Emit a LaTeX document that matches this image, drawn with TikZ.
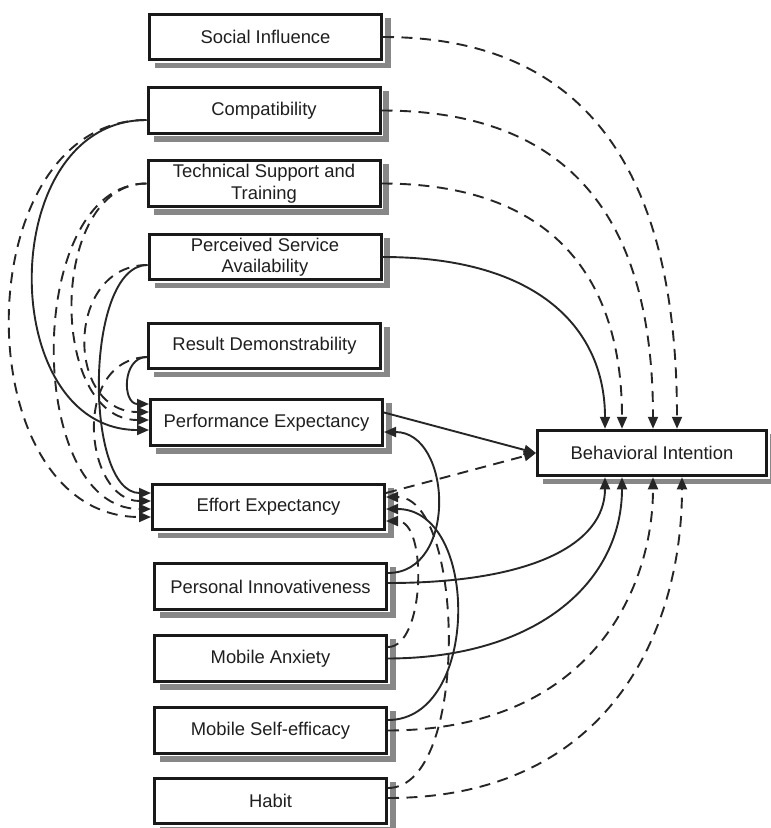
\documentclass[tikz,border=0pt]{standalone}
\usepackage{fontspec}
\setmainfont{Liberation Sans}
\usetikzlibrary{arrows.meta}
\newcommand\bxfont{\fontsize{18.4}{21.5}\selectfont}
\definecolor{shadowgray}{RGB}{135,135,135}
\begin{document}
\begin{tikzpicture}[x=1pt,y=-1pt,
  box/.style={draw=black!90, line width=3pt, fill=white, minimum width=232pt,
    minimum height=45.5pt, inner sep=1pt, align=center, font=\bxfont, text=black!88},
  shadowbox/.style={fill=shadowgray, draw=none},
  conn/.style={line width=1.9pt, draw=black!85},
  dsh/.style={conn, dash pattern=on 11pt off 7.5pt},
  arr/.style={-{Triangle[length=12pt,width=10pt]}}]
\useasboundingbox (0,0) rectangle (771,828);
% boxes
\node[box] (si)  at (265.5,37)  {Social Influence};
\node[box] (cp)  at (264,110.5) {Compatibility};
\node[box] (ts)  at (264,183.5) {Technical Support and\\Training};
\node[box] (psa) at (265,257)   {Perceived Service\\Availability};
\node[box] (rd)  at (264.5,346) {Result Demonstrability};
\node[box] (pe)  at (266.5,422.5) {Performance Expectancy};
\node[box] (ee)  at (268.5,507) {Effort Expectancy};
\node[box] (pi)  at (270.5,586.5) {Personal Innovativeness};
\node[box] (ma)  at (270.5,658.5) {Mobile Anxiety};
\node[box] (mse) at (270.5,730.5) {Mobile Self-efficacy};
\node[box] (hb)  at (270.5,801) {Habit};
\node[box, minimum width=229pt] (bi)  at (652,453)   {Behavioral Intention};
% shadows: gray bands along right and bottom sides
\foreach \n in {si,cp,ts,psa,rd,pe,ee,pi,ma,mse,hb,bi}{
  \fill[shadowbox] ([xshift=1.5pt,yshift=-5pt]\n.north east) rectangle ([xshift=7.5pt,yshift=-7pt]\n.south east);
  \fill[shadowbox] ([xshift=7pt,yshift=-1.5pt]\n.south west) rectangle ([xshift=7.5pt,yshift=-7pt]\n.south east);
}
% right side, into top of BI
\draw[dsh,arr] (si.east) .. controls (600,37) and (677,190) .. ([xshift=25pt]bi.north);
\draw[dsh,arr] (cp.east) .. controls (580,110.5) and (653,230) .. ([xshift=1pt]bi.north);
\draw[dsh,arr] (ts.east) .. controls (555,183.5) and (622,280) .. ([xshift=-30pt]bi.north);
\draw[conn,arr] (psa.east) .. controls (540,257) and (605,330) .. ([xshift=-47pt]bi.north);
% into bottom of BI
\draw[conn,arr] ([yshift=3.5pt]pi.east) .. controls (530,583) and (605,545) .. ([xshift=-47pt]bi.south);
\draw[conn,arr] (ma.east) .. controls (540,658) and (622,580) .. ([xshift=-30pt]bi.south);
\draw[dsh,arr] (mse.east) .. controls (590,730) and (653,590) .. ([xshift=1pt]bi.south);
\draw[dsh,arr] ([yshift=3pt]hb.east) .. controls (610,798) and (682,630) .. ([xshift=30pt]bi.south);
% into left of BI
\draw[conn,arr] ([yshift=10pt]pe.east) -- (bi.west);
\draw[dsh,arr] ([yshift=14pt]ee.east) -- (bi.west);
% lower right loops
\draw[conn,arr] ([yshift=13.5pt]pi.east) .. controls (458,573) and (452,432) .. ([yshift=-9.5pt]pe.east);
\draw[conn,arr] ([yshift=10.5pt]mse.east) .. controls (480,720) and (480,509) .. ([yshift=-2pt]ee.east);
\draw[dsh,arr] ([yshift=11.5pt]ma.east) .. controls (425,647) and (428,521) .. ([yshift=-14pt]ee.east);
\draw[dsh,arr] ([yshift=13pt]hb.east) .. controls (470,788) and (465,497) .. ([yshift=10pt]ee.east);
% left side loops
\draw[conn,arr] ([yshift=-9.5pt]cp.west) .. controls (-5,120) and (-5,430) .. ([yshift=-7.5pt]pe.west);
\draw[dsh,arr] ([yshift=-9.5pt]cp.west) .. controls (-36,120) and (-36,517) .. ([yshift=-10pt]ee.west);
\draw[dsh,arr] (ts.west) .. controls (48,183.5) and (48,420) .. ([yshift=2.5pt]pe.west);
\draw[dsh,arr] (ts.west) .. controls (24,183.5) and (24,509) .. ([yshift=-2pt]ee.west);
\draw[conn,arr] ([yshift=-8pt]psa.west) .. controls (84,265) and (84,493) .. ([yshift=14pt]ee.west);
\draw[dsh,arr] ([yshift=-8pt]psa.west) .. controls (65,265) and (65,412) .. ([yshift=10.5pt]pe.west);
\draw[conn,arr] ([yshift=-11pt]rd.west) .. controls (122,357) and (122,404) .. ([yshift=18.5pt]pe.west);
\draw[dsh,arr] ([yshift=-11pt]rd.west) .. controls (70,360) and (85,501) .. ([yshift=6pt]ee.west);
\end{tikzpicture}
\end{document}
